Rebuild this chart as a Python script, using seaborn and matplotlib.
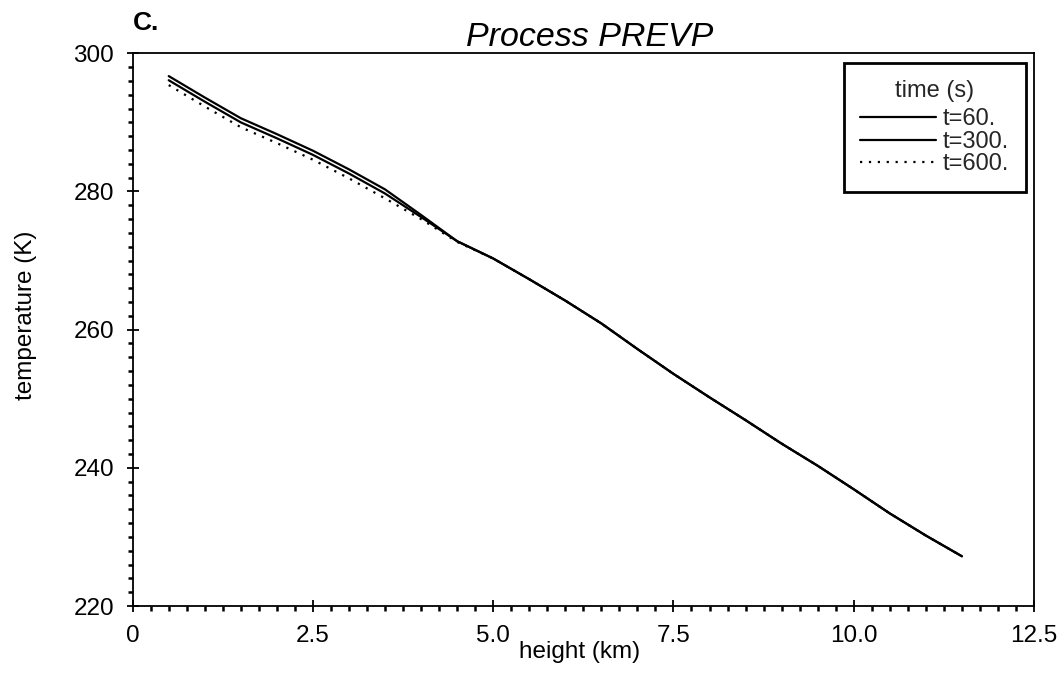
import matplotlib
matplotlib.use("Agg")
import matplotlib.pyplot as plt
import seaborn as sns
import numpy as np
import pandas as pd
from matplotlib.ticker import MultipleLocator, FixedLocator, FixedFormatter
from matplotlib.lines import Line2D

# ---- data ----
height_km = [0.5, 1.0, 1.5, 2.0, 2.5, 3.0, 3.5, 4.0, 4.5, 5.0, 5.5, 6.0,
             6.5, 7.0, 7.5, 8.0, 8.5, 9.0, 9.5, 10.0, 10.5, 11.0, 11.5]
temp_t60 = [296.7, 293.6, 290.6, 288.3, 285.9, 283.2, 280.3, 276.6, 272.8,
            270.3, 267.3, 264.2, 260.9, 257.2, 253.6, 250.2, 246.9, 243.5,
            240.3, 236.9, 233.4, 230.2, 227.2]
temp_t300 = [296.1, 293.0, 290.0, 287.7, 285.3, 282.6, 279.7, 276.3, 272.8,
             270.3, 267.3, 264.2, 260.9, 257.2, 253.6, 250.2, 246.9, 243.5,
             240.3, 236.9, 233.4, 230.2, 227.2]
temp_t600 = [295.4, 292.3, 289.3, 287.0, 284.6, 281.9, 279.0, 276.0, 272.7,
             270.3, 267.3, 264.2, 260.9, 257.2, 253.6, 250.2, 246.9, 243.5,
             240.3, 236.9, 233.4, 230.2, 227.2]
series_labels = ["t=60.", "t=300.", "t=600."]
x_ticks = [0, 2.5, 5.0, 7.5, 10.0, 12.5]
x_tick_labels = ["0", "2.5", "5.0", "7.5", "10.0", "12.5"]
y_ticks = [220, 240, 260, 280, 300]
y_tick_labels = ["220", "240", "260", "280", "300"]

sns.set_style("ticks")
plt.rcParams["font.family"] = ["Liberation Sans", "DejaVu Sans"]

fig = plt.figure(figsize=(10.64, 6.79), dpi=100)
ax = fig.add_axes([0.1247, 0.1075, 0.8471, 0.814])

styles = ["-", "-", (0, (1, 3))]
all_temps = [temp_t60, temp_t300, temp_t600]
for temps, ls in zip(all_temps, styles):
    df = pd.DataFrame({"height": height_km, "temp": temps})
    sns.lineplot(data=df, x="height", y="temp", ax=ax, color="black",
                 linestyle=ls, linewidth=1.6, legend=False)

ax.set_xlim(0, 12.5)
ax.set_ylim(220, 300)
ax.xaxis.set_major_locator(FixedLocator(x_ticks))
ax.xaxis.set_major_formatter(FixedFormatter(x_tick_labels))
ax.yaxis.set_major_locator(FixedLocator(y_ticks))
ax.yaxis.set_major_formatter(FixedFormatter(y_tick_labels))
ax.xaxis.set_minor_locator(MultipleLocator(0.25))
ax.yaxis.set_minor_locator(MultipleLocator(2))
ax.tick_params(which="major", direction="inout", length=9, width=1.3,
               labelsize=17.5, pad=9, color="black", labelcolor="black")
ax.tick_params(which="minor", direction="out", length=3.5, width=1.8,
               color="black")
ax.tick_params(top=False, right=False, which="both")

for sp in ax.spines.values():
    sp.set_visible(True)
    sp.set_color("black")
    sp.set_linewidth(1.3)

ax.set_xlabel("height (km)", fontsize=17.5, color="black")
ax.set_ylabel("temperature (K)", fontsize=17.5, color="black")
ax.xaxis.set_label_coords(0.496, -0.064)
ax.yaxis.set_label_coords(-0.106, 0.526)

ax.set_title("Process PREVP", fontsize=24.5, style="italic", pad=3.6,
             x=0.507, color="black")

fig.text(0.125, 0.9558, "C.", fontsize=19, fontweight="bold",
         va="baseline", ha="left", color="black")

handles = [Line2D([0], [0], color="black", linestyle=ls, linewidth=1.6)
           for ls in styles]
leg = ax.legend(handles, series_labels, title="time (s)",
                loc="upper right", bbox_to_anchor=(0.9643, 0.9072),
                bbox_transform=fig.transFigure, fontsize=17, title_fontsize=17,
                frameon=True, fancybox=False, handlelength=3.2,
                handletextpad=0.3, labelspacing=0.02, borderpad=0.7,
                borderaxespad=0)
leg._legend_box.sep = 5
leg.get_frame().set_edgecolor("black")
leg.get_frame().set_linewidth(2)
leg.get_frame().set_facecolor("white")
leg.get_frame().set_alpha(1)

fig.savefig("out.png", dpi=100)
